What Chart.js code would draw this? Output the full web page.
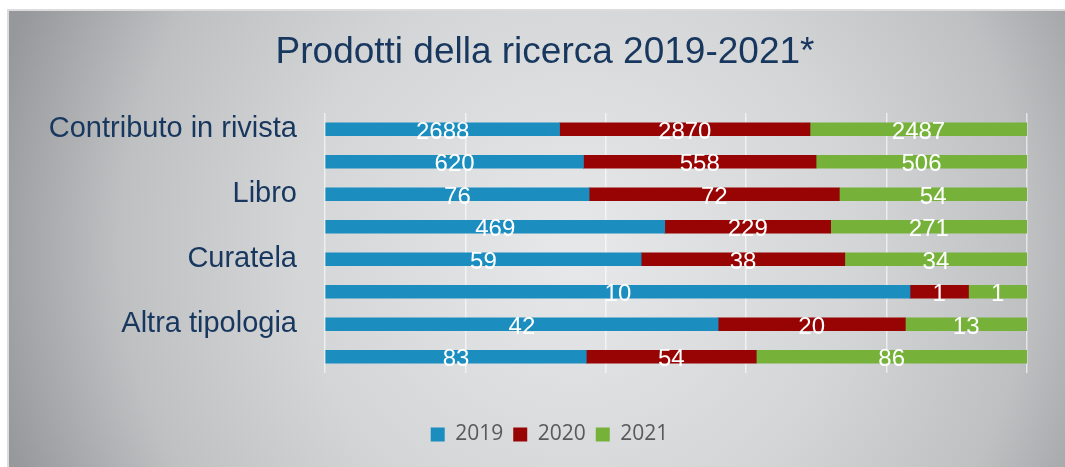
<!DOCTYPE html>
<html>
<head>
<meta charset="utf-8">
<script src="https://cdn.jsdelivr.net/npm/chart.js@4/dist/chart.umd.min.js"></script>
<style>
  html, body { margin: 0; padding: 0; background: #fff; }
  #wrap { width: 1065px; height: 467px; }
</style>
</head>
<body>
<div id="wrap"><canvas id="chart" width="1065" height="467"></canvas></div>
<script>
// categories (only every other label is printed in the original)
const categories = [
  "Contributo in rivista",
  "Contributo in volume",
  "Libro",
  "Contributo in atti di convegno",
  "Curatela",
  "Brevetto",
  "Altra tipologia",
  "Altro"
];
const years = ["2019", "2020", "2021"];
const values2019 = [2688, 620, 76, 469, 59, 10, 42, 83];
const values2020 = [2870, 558, 72, 229, 38, 1, 20, 54];
const values2021 = [2487, 506, 54, 271, 34, 1, 13, 86];
const colors = ["#1b8dbf", "#980404", "#76b23a"];
const titleText = "Prodotti della ricerca 2019-2021*";

const totals = categories.map((c, i) => values2019[i] + values2020[i] + values2021[i]);
const share = arr => arr.map((v, i) => v / totals[i] * 100);
const rawValues = [values2019, values2020, values2021];

// gray panel with radial shading behind the chart, plus the title
const panelBg = {
  id: "panelBg",
  afterLayout(chart) {
    // legend sits a bit right of the canvas centre in the original
    chart.legend.left += 32;
    chart.legend.right += 32;
  },
  beforeDraw(chart) {
    const ctx = chart.ctx;
    ctx.save();
    ctx.fillStyle = "#ffffff";
    ctx.fillRect(0, 0, chart.width, chart.height);
    const g = ctx.createRadialGradient(575, 250, 20, 575, 250, 600);
    g.addColorStop(0, "#e6e7e9");
    g.addColorStop(0.45, "#d4d5d7");
    g.addColorStop(0.75, "#bfc0c2");
    g.addColorStop(1, "#97989b");
    ctx.fillStyle = g;
    ctx.fillRect(8, 10, chart.width - 8, chart.height - 10);
    ctx.strokeStyle = "#dcdcdc";
    ctx.lineWidth = 2;
    ctx.beginPath();
    ctx.moveTo(8, chart.height);
    ctx.lineTo(8, 10);
    ctx.lineTo(chart.width, 10);
    ctx.stroke();

    ctx.fillStyle = "#17375e";
    ctx.font = "37px 'Liberation Sans', Arial, sans-serif";
    ctx.textAlign = "center";
    ctx.textBaseline = "middle";
    ctx.fillText(titleText, 545, 53);
    ctx.restore();
  }
};

// raw counts written in the middle of each segment
const segmentLabels = {
  id: "segmentLabels",
  afterDatasetsDraw(chart) {
    const ctx = chart.ctx;
    ctx.save();
    ctx.fillStyle = "#ffffff";
    ctx.font = "24px 'Liberation Sans', Arial, sans-serif";
    ctx.textAlign = "center";
    ctx.textBaseline = "middle";
    chart.data.datasets.forEach((ds, di) => {
      chart.getDatasetMeta(di).data.forEach((bar, i) => {
        const cx = (bar.x + bar.base) / 2;
        ctx.fillText(String(rawValues[di][i]), cx, bar.y + 3);
      });
    });
    ctx.restore();
  }
};

new Chart(document.getElementById("chart"), {
  type: "bar",
  data: {
    labels: categories,
    datasets: years.map((y, k) => ({
      label: y,
      data: share(rawValues[k]),
      backgroundColor: colors[k],
      borderWidth: 0,
      barThickness: 13
    }))
  },
  options: {
    indexAxis: "y",
    responsive: false,
    animation: false,
    layout: { padding: { top: 113, right: 38, bottom: 12, left: 8 } },
    plugins: {
      title: { display: false },
      legend: {
        position: "bottom",
        labels: {
          boxWidth: 14,
          boxHeight: 14,
          padding: 10,
          color: "#595959",
          font: { family: "'Open Sans', sans-serif", size: 21 }
        }
      },
      tooltip: { enabled: false }
    },
    scales: {
      x: {
        stacked: true,
        min: 0,
        max: 100,
        ticks: { display: false, stepSize: 20 },
        grid: { color: "rgba(255,255,255,0.6)", lineWidth: 1.5, drawTicks: false },
        border: { display: false },
        afterFit(scale) { scale.height = 41; }
      },
      y: {
        stacked: true,
        grid: { display: false },
        border: { display: false },
        ticks: {
          autoSkip: false,
          padding: 20,
          color: "#17375e",
          font: { family: "'Liberation Sans', Arial, sans-serif", size: 29 },
          callback: (value, index) => index % 2 === 0 ? categories[index] : ""
        },
        afterFit(scale) { scale.width = 317; }
      }
    }
  },
  plugins: [panelBg, segmentLabels]
});
</script>
</body>
</html>
